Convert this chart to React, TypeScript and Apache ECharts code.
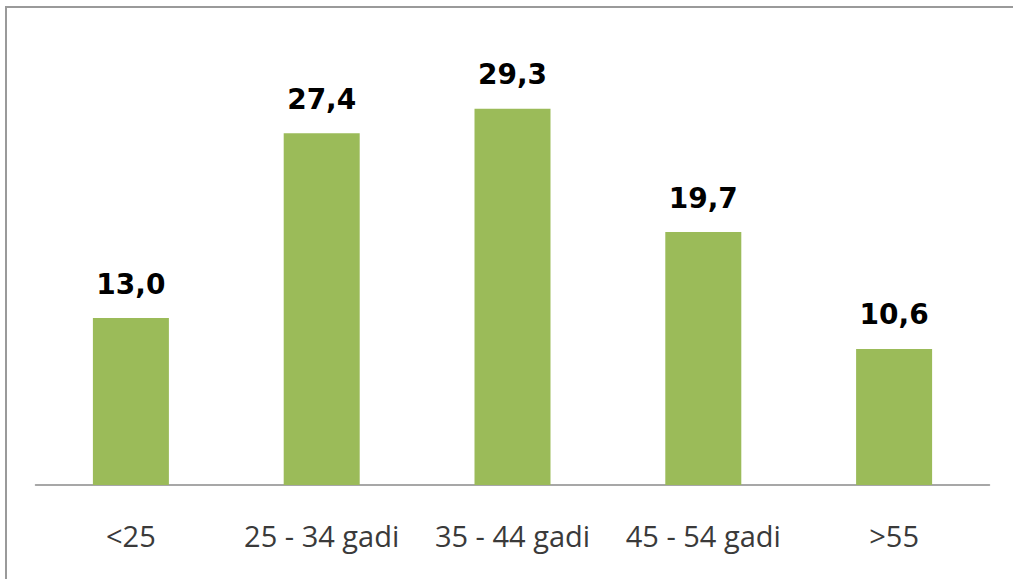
import React, { useEffect, useRef } from "react";
import * as echarts from "echarts";

const categories = ["<25", "25 - 34 gadi", "35 - 44 gadi", "45 - 54 gadi", ">55"];
const values = [13.0, 27.4, 29.3, 19.7, 10.6];

export default function App() {
  const ref = useRef<HTMLDivElement>(null);
  useEffect(() => {
    document.body.style.margin = "0";
    const chart = echarts.init(ref.current!, null, { renderer: "svg" });
    chart.setOption({
      animation: false,
      backgroundColor: "#ffffff",
      grid: { left: 35.5, right: 23.5, top: 35.6, bottom: 94, containLabel: false },
      graphic: [
        {
          type: "rect",
          shape: { x: 6, y: 7, width: 1030, height: 600 },
          style: { fill: "none", stroke: "#9a9a9a", lineWidth: 2 },
          silent: true,
        },
      ],
      xAxis: {
        type: "category",
        data: categories,
        axisTick: { show: false },
        axisLine: { show: true, lineStyle: { color: "#8a8a8a", width: 1.5 } },
        axisLabel: {
          interval: 0,
          margin: 36,
          color: "#3a3a3a",
          fontFamily: "Open Sans",
          fontSize: 29,
          lineHeight: 29,
        },
      },
      yAxis: {
        type: "value",
        min: 0,
        max: 35,
        show: false,
        splitLine: { show: false },
      },
      series: [
        {
          type: "bar",
          data: values,
          barWidth: 76,
          itemStyle: { color: "#9BBB59" },
          label: {
            show: true,
            position: "top",
            distance: 20,
            color: "#000000",
            fontFamily: "DejaVu Sans",
            fontWeight: "bold",
            fontSize: 28,
            lineHeight: 28,
            formatter: (p: any) => Number(p.value).toFixed(1).replace(".", ","),
          },
        },
      ],
    });
    return () => chart.dispose();
  }, []);
  return <div ref={ref} style={{ width: 1013, height: 579 }} />;
}
